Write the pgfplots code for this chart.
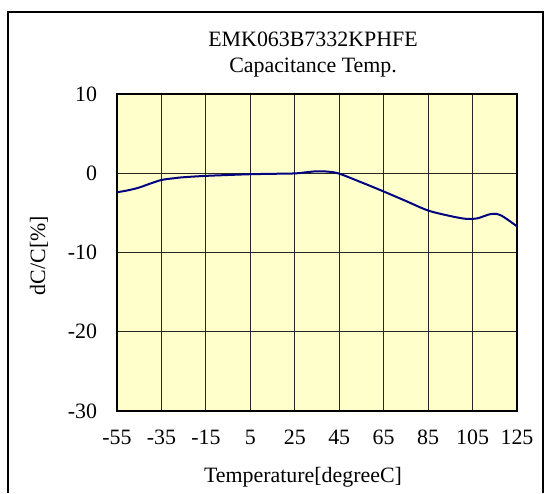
\documentclass[border=0pt,11pt]{standalone}
\usepackage{fontspec}
\setmainfont{Liberation Serif}
\usepackage{pgfplots}
\pgfplotsset{compat=1.18}
\definecolor{bgyellow}{HTML}{FFFFCC}
\definecolor{curvenavy}{HTML}{000080}
\begin{document}
\begin{tikzpicture}
\useasboundingbox (0,0) rectangle (272pt,246.5pt);
\draw[line width=1pt] (4pt,0pt) -- (4pt,240.5pt) -- (271.5pt,240.5pt) -- (271.5pt,0pt);
\begin{axis}[
  at={(58.5pt,41pt)}, anchor=south west,
  scale only axis, width=200pt, height=158.5pt,
  xmin=-55, xmax=125, ymin=-30, ymax=10,
  xtick={-55,-35,-15,5,25,45,65,85,105,125},
  xticklabels={-55,-35,-15,5,25,45,65,85,105,125},
  ytick={-30,-20,-10,0,10},
  yticklabels={-30,-20,-10,0,10},
  xticklabel style={yshift=-5.8pt},
  yticklabel style={xshift=-6.1pt},
  major tick length=0pt,
  grid=major,
  major grid style={black!85, line width=0.5pt},
  axis line style={line width=1pt},
  axis background/.style={fill=bgyellow},
  clip=true,
]
\addplot[curvenavy, line width=1pt, smooth, tension=0.5] coordinates {
(-55,-2.4) (-50,-2.15) (-45,-1.8) (-40,-1.3) (-35,-0.85) (-30,-0.65) (-25,-0.5)
(-15,-0.33) (-5,-0.22) (5,-0.12) (15,-0.07) (25,-0.02) (30,0.12) (35,0.25)
(40,0.2) (45,-0.05) (55,-1.15) (65,-2.3) (75,-3.5) (85,-4.7) (95,-5.4)
(102,-5.75) (107,-5.7) (113.6,-5.12) (118,-5.35) (125,-6.7)
};
\end{axis}
\node[anchor=base] at (156.5pt,223.2pt) {EMK063B7332KPHFE};
\node[anchor=base] at (156.5pt,210.2pt) {Capacitance Temp.};
\node[anchor=base] at (151.5pt,5.5pt) {Temperature[degreeC]};
\node[rotate=90, anchor=base] at (22.5pt,118.75pt) {dC/C[\%]};
\end{tikzpicture}
\end{document}
